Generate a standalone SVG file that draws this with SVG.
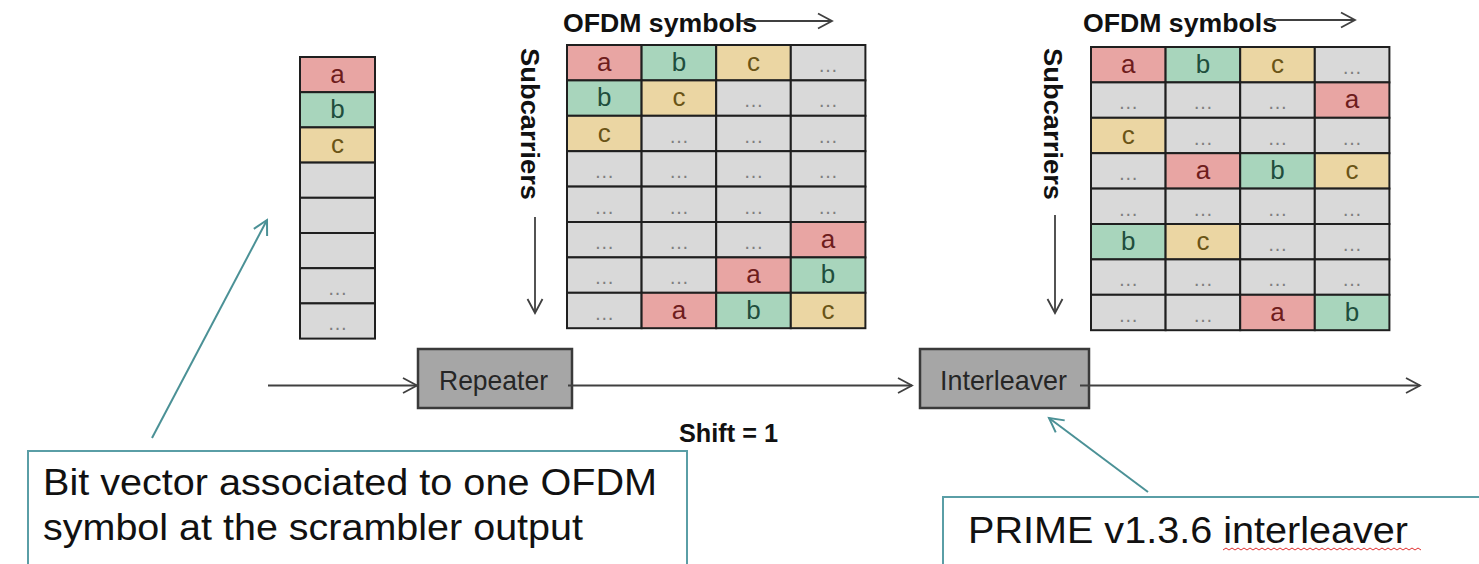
<svg xmlns="http://www.w3.org/2000/svg" width="1479" height="564" viewBox="0 0 1479 564">
<style>
text{font-family:"Liberation Sans",Arial,sans-serif}
.cell{stroke:#1f1f1f;stroke-width:2}
.ca{fill:#e8a5a3}.cb{fill:#a8d5bc}.cc{fill:#ebd6a3}.ce{fill:#d9d9d9}
.lt{font-size:26px;text-anchor:middle}
.ta{fill:#6e1c1c}.tb{fill:#1f4e3d}.tc{fill:#6a5416}
.td{font-size:20px;text-anchor:middle;fill:#7f7f7f}
.hdr{font-size:26px;font-weight:bold;fill:#111}
.blk{fill:#a6a6a6;stroke:#3a3a3a;stroke-width:2.5}
.blkt{font-size:28px;fill:#262626;text-anchor:middle}
.conn{stroke:#404040;stroke-width:1.8;fill:none}
.teal{stroke:#4b9196;stroke-width:2;fill:none}
.note{fill:#fff;stroke:#5a9ea6;stroke-width:2}
.nt{font-size:36px;fill:#111}
</style>
<defs>
<marker id="arr" markerWidth="18" markerHeight="18" refX="15" refY="9" orient="auto" markerUnits="userSpaceOnUse"><path d="M1,1.5 L15,9 L1,16.5" fill="none" stroke="#404040" stroke-width="1.8"/></marker>
<marker id="arrT" markerWidth="18" markerHeight="18" refX="15" refY="9" orient="auto" markerUnits="userSpaceOnUse"><path d="M1,1.5 L15,9 L1,16.5" fill="none" stroke="#4b9196" stroke-width="2"/></marker>
</defs>

<g id="bit-vector" transform="translate(300,57)">
<g><rect class="cell ca" width="75" height="35.2"/><text class="lt ta" x="37.5" y="26">a</text></g>
<g transform="translate(0,35.2)"><rect class="cell cb" width="75" height="35.2"/><text class="lt tb" x="37.5" y="26">b</text></g>
<g transform="translate(0,70.4)"><rect class="cell cc" width="75" height="35.2"/><text class="lt tc" x="37.5" y="26">c</text></g>
<g transform="translate(0,105.6)"><rect class="cell ce" width="75" height="35.2"/></g>
<g transform="translate(0,140.8)"><rect class="cell ce" width="75" height="35.2"/></g>
<g transform="translate(0,176)"><rect class="cell ce" width="75" height="35.2"/></g>
<g transform="translate(0,211.2)"><rect class="cell ce" width="75" height="35.2"/><text class="td" x="37.5" y="27">…</text></g>
<g transform="translate(0,246.4)"><rect class="cell ce" width="75" height="35.2"/><text class="td" x="37.5" y="27">…</text></g>
</g>

<g id="repeater-grid">
<text class="hdr" x="563" y="32" textLength="194" lengthAdjust="spacingAndGlyphs">OFDM symbols</text>
<path class="conn" d="M740,21 H832" marker-end="url(#arr)"/>
<text class="hdr" transform="translate(521,48) rotate(90)" x="0" y="0" textLength="152" lengthAdjust="spacingAndGlyphs">Subcarriers</text>
<path class="conn" d="M535,217 V313" marker-end="url(#arr)"/>
<g transform="translate(567,45)">
<g><rect class="cell ca" x="0" width="74.6" height="35.4"/><text class="lt ta" x="37.3" y="26">a</text><rect class="cell cb" x="74.6" width="74.6" height="35.4"/><text class="lt tb" x="111.9" y="26">b</text><rect class="cell cc" x="149.2" width="74.6" height="35.4"/><text class="lt tc" x="186.5" y="26">c</text><rect class="cell ce" x="223.8" width="74.6" height="35.4"/><text class="td" x="261.1" y="27">…</text></g>
<g transform="translate(0,35.4)"><rect class="cell cb" x="0" width="74.6" height="35.4"/><text class="lt tb" x="37.3" y="26">b</text><rect class="cell cc" x="74.6" width="74.6" height="35.4"/><text class="lt tc" x="111.9" y="26">c</text><rect class="cell ce" x="149.2" width="74.6" height="35.4"/><text class="td" x="186.5" y="27">…</text><rect class="cell ce" x="223.8" width="74.6" height="35.4"/><text class="td" x="261.1" y="27">…</text></g>
<g transform="translate(0,70.8)"><rect class="cell cc" x="0" width="74.6" height="35.4"/><text class="lt tc" x="37.3" y="26">c</text><rect class="cell ce" x="74.6" width="74.6" height="35.4"/><text class="td" x="111.9" y="27">…</text><rect class="cell ce" x="149.2" width="74.6" height="35.4"/><text class="td" x="186.5" y="27">…</text><rect class="cell ce" x="223.8" width="74.6" height="35.4"/><text class="td" x="261.1" y="27">…</text></g>
<g transform="translate(0,106.2)"><rect class="cell ce" x="0" width="74.6" height="35.4"/><text class="td" x="37.3" y="27">…</text><rect class="cell ce" x="74.6" width="74.6" height="35.4"/><text class="td" x="111.9" y="27">…</text><rect class="cell ce" x="149.2" width="74.6" height="35.4"/><text class="td" x="186.5" y="27">…</text><rect class="cell ce" x="223.8" width="74.6" height="35.4"/><text class="td" x="261.1" y="27">…</text></g>
<g transform="translate(0,141.6)"><rect class="cell ce" x="0" width="74.6" height="35.4"/><text class="td" x="37.3" y="27">…</text><rect class="cell ce" x="74.6" width="74.6" height="35.4"/><text class="td" x="111.9" y="27">…</text><rect class="cell ce" x="149.2" width="74.6" height="35.4"/><text class="td" x="186.5" y="27">…</text><rect class="cell ce" x="223.8" width="74.6" height="35.4"/><text class="td" x="261.1" y="27">…</text></g>
<g transform="translate(0,177)"><rect class="cell ce" x="0" width="74.6" height="35.4"/><text class="td" x="37.3" y="27">…</text><rect class="cell ce" x="74.6" width="74.6" height="35.4"/><text class="td" x="111.9" y="27">…</text><rect class="cell ce" x="149.2" width="74.6" height="35.4"/><text class="td" x="186.5" y="27">…</text><rect class="cell ca" x="223.8" width="74.6" height="35.4"/><text class="lt ta" x="261.1" y="26">a</text></g>
<g transform="translate(0,212.4)"><rect class="cell ce" x="0" width="74.6" height="35.4"/><text class="td" x="37.3" y="27">…</text><rect class="cell ce" x="74.6" width="74.6" height="35.4"/><text class="td" x="111.9" y="27">…</text><rect class="cell ca" x="149.2" width="74.6" height="35.4"/><text class="lt ta" x="186.5" y="26">a</text><rect class="cell cb" x="223.8" width="74.6" height="35.4"/><text class="lt tb" x="261.1" y="26">b</text></g>
<g transform="translate(0,247.8)"><rect class="cell ce" x="0" width="74.6" height="35.4"/><text class="td" x="37.3" y="27">…</text><rect class="cell ca" x="74.6" width="74.6" height="35.4"/><text class="lt ta" x="111.9" y="26">a</text><rect class="cell cb" x="149.2" width="74.6" height="35.4"/><text class="lt tb" x="186.5" y="26">b</text><rect class="cell cc" x="223.8" width="74.6" height="35.4"/><text class="lt tc" x="261.1" y="26">c</text></g>
</g>
</g>

<g id="interleaver-grid">
<text class="hdr" x="1083" y="32" textLength="194" lengthAdjust="spacingAndGlyphs">OFDM symbols</text>
<path class="conn" d="M1265,20 H1355" marker-end="url(#arr)"/>
<text class="hdr" transform="translate(1044,48) rotate(90)" x="0" y="0" textLength="152" lengthAdjust="spacingAndGlyphs">Subcarriers</text>
<path class="conn" d="M1055,215 V313" marker-end="url(#arr)"/>
<g transform="translate(1091,47)">
<g><rect class="cell ca" x="0" width="74.6" height="35.4"/><text class="lt ta" x="37.3" y="26">a</text><rect class="cell cb" x="74.6" width="74.6" height="35.4"/><text class="lt tb" x="111.9" y="26">b</text><rect class="cell cc" x="149.2" width="74.6" height="35.4"/><text class="lt tc" x="186.5" y="26">c</text><rect class="cell ce" x="223.8" width="74.6" height="35.4"/><text class="td" x="261.1" y="27">…</text></g>
<g transform="translate(0,35.4)"><rect class="cell ce" x="0" width="74.6" height="35.4"/><text class="td" x="37.3" y="27">…</text><rect class="cell ce" x="74.6" width="74.6" height="35.4"/><text class="td" x="111.9" y="27">…</text><rect class="cell ce" x="149.2" width="74.6" height="35.4"/><text class="td" x="186.5" y="27">…</text><rect class="cell ca" x="223.8" width="74.6" height="35.4"/><text class="lt ta" x="261.1" y="26">a</text></g>
<g transform="translate(0,70.8)"><rect class="cell cc" x="0" width="74.6" height="35.4"/><text class="lt tc" x="37.3" y="26">c</text><rect class="cell ce" x="74.6" width="74.6" height="35.4"/><text class="td" x="111.9" y="27">…</text><rect class="cell ce" x="149.2" width="74.6" height="35.4"/><text class="td" x="186.5" y="27">…</text><rect class="cell ce" x="223.8" width="74.6" height="35.4"/><text class="td" x="261.1" y="27">…</text></g>
<g transform="translate(0,106.2)"><rect class="cell ce" x="0" width="74.6" height="35.4"/><text class="td" x="37.3" y="27">…</text><rect class="cell ca" x="74.6" width="74.6" height="35.4"/><text class="lt ta" x="111.9" y="26">a</text><rect class="cell cb" x="149.2" width="74.6" height="35.4"/><text class="lt tb" x="186.5" y="26">b</text><rect class="cell cc" x="223.8" width="74.6" height="35.4"/><text class="lt tc" x="261.1" y="26">c</text></g>
<g transform="translate(0,141.6)"><rect class="cell ce" x="0" width="74.6" height="35.4"/><text class="td" x="37.3" y="27">…</text><rect class="cell ce" x="74.6" width="74.6" height="35.4"/><text class="td" x="111.9" y="27">…</text><rect class="cell ce" x="149.2" width="74.6" height="35.4"/><text class="td" x="186.5" y="27">…</text><rect class="cell ce" x="223.8" width="74.6" height="35.4"/><text class="td" x="261.1" y="27">…</text></g>
<g transform="translate(0,177)"><rect class="cell cb" x="0" width="74.6" height="35.4"/><text class="lt tb" x="37.3" y="26">b</text><rect class="cell cc" x="74.6" width="74.6" height="35.4"/><text class="lt tc" x="111.9" y="26">c</text><rect class="cell ce" x="149.2" width="74.6" height="35.4"/><text class="td" x="186.5" y="27">…</text><rect class="cell ce" x="223.8" width="74.6" height="35.4"/><text class="td" x="261.1" y="27">…</text></g>
<g transform="translate(0,212.4)"><rect class="cell ce" x="0" width="74.6" height="35.4"/><text class="td" x="37.3" y="27">…</text><rect class="cell ce" x="74.6" width="74.6" height="35.4"/><text class="td" x="111.9" y="27">…</text><rect class="cell ce" x="149.2" width="74.6" height="35.4"/><text class="td" x="186.5" y="27">…</text><rect class="cell ce" x="223.8" width="74.6" height="35.4"/><text class="td" x="261.1" y="27">…</text></g>
<g transform="translate(0,247.8)"><rect class="cell ce" x="0" width="74.6" height="35.4"/><text class="td" x="37.3" y="27">…</text><rect class="cell ce" x="74.6" width="74.6" height="35.4"/><text class="td" x="111.9" y="27">…</text><rect class="cell ca" x="149.2" width="74.6" height="35.4"/><text class="lt ta" x="186.5" y="26">a</text><rect class="cell cb" x="223.8" width="74.6" height="35.4"/><text class="lt tb" x="261.1" y="26">b</text></g>
</g>
</g>

<g id="repeater"><rect class="blk" x="418" y="349" width="154" height="59"/><text class="blkt" x="493.5" y="390" textLength="109" lengthAdjust="spacingAndGlyphs">Repeater</text></g>
<g id="interleaver"><rect class="blk" x="920" y="349" width="169" height="59"/><text class="blkt" x="1003.5" y="390" textLength="127" lengthAdjust="spacingAndGlyphs">Interleaver</text></g>

<g id="shift-label"><text class="hdr" x="679" y="442" textLength="99" lengthAdjust="spacingAndGlyphs">Shift = 1</text></g>

<g id="note-bitvector"><rect class="note" x="28" y="451" width="659" height="130"/>
<text class="nt" x="43" y="495" textLength="614" lengthAdjust="spacingAndGlyphs">Bit vector associated to one OFDM</text>
<text class="nt" x="43" y="540" textLength="540" lengthAdjust="spacingAndGlyphs">symbol at the scrambler output</text></g>
<g id="note-prime"><rect class="note" x="943" y="497" width="560" height="90"/>
<text class="nt" x="968" y="543" textLength="440" lengthAdjust="spacingAndGlyphs">PRIME v1.3.6 interleaver</text>
<path d="M1223,550 l3,-2 l3,2 l3,-2 l3,2 l3,-2 l3,2 l3,-2 l3,2 l3,-2 l3,2 l3,-2 l3,2 l3,-2 l3,2 l3,-2 l3,2 l3,-2 l3,2 l3,-2 l3,2 l3,-2 l3,2 l3,-2 l3,2 l3,-2 l3,2 l3,-2 l3,2 l3,-2 l3,2 l3,-2 l3,2 l3,-2 l3,2 l3,-2 l3,2 l3,-2 l3,2 l3,-2 l3,2 l3,-2 l3,2 l3,-2 l3,2 l3,-2 l3,2 l3,-2 l3,2 l3,-2 l3,2 l3,-2 l3,2 l3,-2 l3,2 l3,-2 l3,2 l3,-2 l3,2 l3,-2 l3,2 l3,-2 l3,2 l3,-2 l3,2 l3,-2 l3,2" fill="none" stroke="#e03030" stroke-width="1"/></g>

<g id="connectors">
<path class="conn" d="M268,385.5 H417" marker-end="url(#arr)"/>
<path class="conn" d="M568,385.5 H912" marker-end="url(#arr)"/>
<path class="conn" d="M1080,385.5 H1420" marker-end="url(#arr)"/>
<path class="teal" d="M152,438 L267,220" marker-end="url(#arrT)"/>
<path class="teal" d="M1148,492 L1049,418" marker-end="url(#arrT)"/>
</g>
</svg>
